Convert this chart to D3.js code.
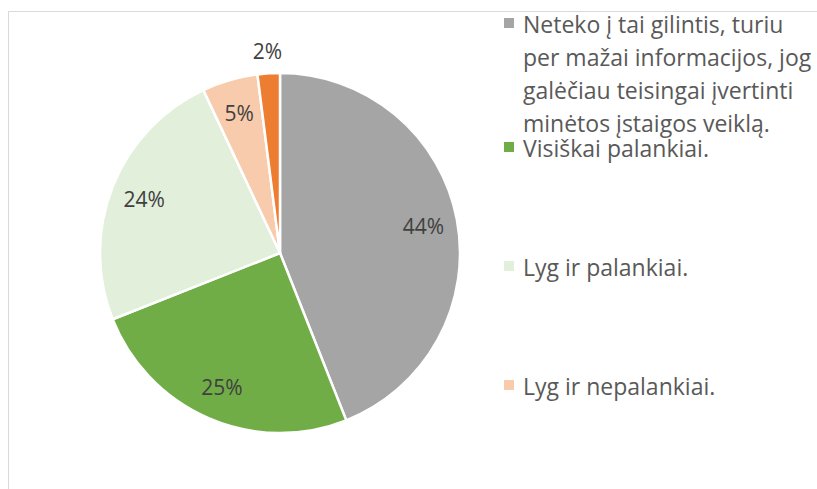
<!DOCTYPE html>
<html>
<head>
<meta charset="utf-8">
<script src="https://cdn.jsdelivr.net/npm/d3@7/dist/d3.min.js"></script>
<style>
  html, body { margin: 0; padding: 0; background: #ffffff; overflow: hidden; }
  svg { display: block; }
</style>
</head>
<body>
<svg id="chart" width="817" height="489"></svg>
<script>
// ---- data ----
const categories = [
  "Neteko į tai gilintis, turiu per mažai informacijos, jog galėčiau teisingai įvertinti minėtos įstaigos veiklą.",
  "Visiškai palankiai.",
  "Lyg ir palankiai.",
  "Lyg ir nepalankiai.",
  "Visiškai nepalankiai."
];
const values = [44, 25, 24, 5, 2];
const labels = ["44%", "25%", "24%", "5%", "2%"];
const colors = ["#a5a5a5", "#70ad47", "#e2efda", "#f8cbad", "#ed7d31"];

// ---- layout ----
const W = 817, H = 489;
const cx = 280, cy = 253, R = 180;
const FONT = "'Open Sans', 'DejaVu Sans', sans-serif";

const svg = d3.select("#chart");
svg.append("rect").attr("x", 0).attr("y", 0).attr("width", W).attr("height", H).attr("fill", "#ffffff");

// chart area border (cropped in reference)
svg.append("rect")
  .attr("x", 8.5).attr("y", 11.5)
  .attr("width", W + 20).attr("height", H + 20)
  .attr("fill", "none").attr("stroke", "#d9d9d9").attr("stroke-width", 1);

const data = categories.map((c, i) => ({ name: c, value: values[i], label: labels[i], color: colors[i] }));

const pie = d3.pie().value(d => d.value).sort(null).startAngle(0).endAngle(2 * Math.PI);
const arcs = pie(data);
const arc = d3.arc().innerRadius(0).outerRadius(R);
const labelArc = d3.arc().innerRadius(146).outerRadius(146);
const outerLabelArc = d3.arc().innerRadius(202).outerRadius(202);

const g = svg.append("g").attr("transform", `translate(${cx},${cy})`);
g.selectAll("path.slice")
  .data(arcs)
  .join("path")
  .attr("class", "slice")
  .attr("d", arc)
  .attr("fill", d => d.data.color)
  .attr("stroke", "#ffffff")
  .attr("stroke-width", 2.5)
  .attr("stroke-linejoin", "miter");

g.selectAll("text.lbl")
  .data(arcs)
  .join("text")
  .attr("class", "lbl")
  .attr("transform", d => {
    const p = (d.data.value < 3 ? outerLabelArc : labelArc).centroid(d);
    return `translate(${p[0]},${p[1]})`;
  })
  .attr("text-anchor", "middle")
  .attr("dominant-baseline", "central")
  .attr("font-family", FONT)
  .attr("font-size", 21)
  .attr("fill", "#404040")
  .text(d => d.data.label);

// ---- legend ----
const legendX = 504, textX = 523, lineH = 33, maxW = 292;
const legendFont = 23;
const rowY = d3.scaleLinear().domain([1, 2]).range([157, 276]); // baselines of single-line entries

function wrap(str) {
  const tmp = svg.append("text").attr("font-family", FONT).attr("font-size", legendFont);
  const words = str.split(" ");
  const lines = [];
  let cur = "";
  words.forEach(w => {
    const test = cur ? cur + " " + w : w;
    tmp.text(test);
    if (tmp.node().getComputedTextLength() > maxW && cur) {
      lines.push(cur);
      cur = w;
    } else cur = test;
  });
  if (cur) lines.push(cur);
  tmp.remove();
  return lines;
}

const legend = svg.append("g");
data.forEach((d, i) => {
  const lines = wrap(d.name);
  let firstBase;
  if (i === 0) firstBase = rowY(1) - 25 - (lines.length - 1) * lineH;
  else firstBase = rowY(i);
  // entries that fall below the visible chart area are not shown (as in the reference)
  if (firstBase - legendFont > H) return;
  legend.append("rect")
    .attr("x", legendX).attr("y", firstBase - 15)
    .attr("width", 10).attr("height", 10)
    .attr("fill", d.color);
  const t = legend.append("text")
    .attr("x", textX).attr("y", firstBase)
    .attr("font-family", FONT).attr("font-size", legendFont)
    .attr("fill", "#595959");
  lines.forEach((ln, k) => {
    t.append("tspan").attr("x", textX).attr("y", firstBase + k * lineH).text(ln);
  });
});
</script>
</body>
</html>
